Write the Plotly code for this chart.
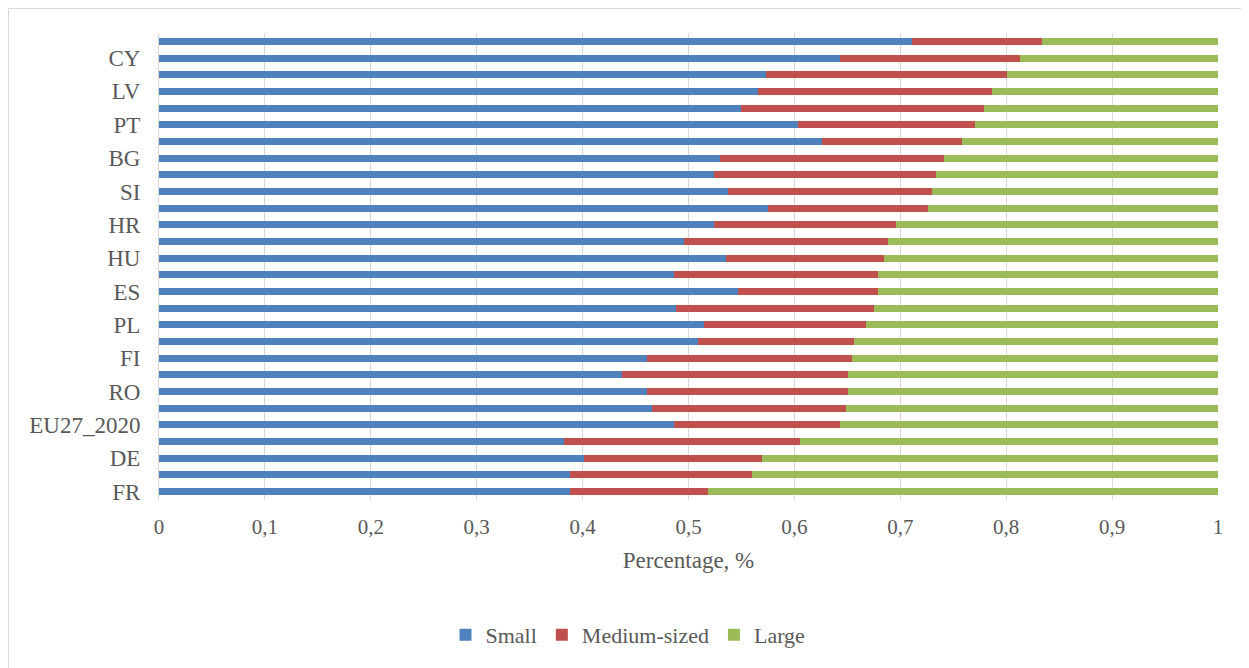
import plotly.graph_objects as go

# Categories listed top to bottom (unlabelled rows carry hidden country codes)
categories = ["EL", "CY", "MT", "LV", "LT", "PT", "IT", "BG", "EE", "SI",
              "LU", "HR", "SK", "HU", "BE", "ES", "CZ", "PL", "NL", "FI",
              "IE", "RO", "AT", "EU27_2020", "DK", "DE", "SE", "FR"]

tick_labels = ["CY", "LV", "PT", "BG", "SI", "HR", "HU", "ES", "PL", "FI",
               "RO", "EU27_2020", "DE", "FR"]

small = [0.711, 0.643, 0.573, 0.566, 0.550, 0.603, 0.626, 0.530, 0.524, 0.537,
         0.575, 0.524, 0.496, 0.535, 0.486, 0.547, 0.488, 0.515, 0.509, 0.461,
         0.437, 0.461, 0.466, 0.486, 0.382, 0.401, 0.388, 0.388]

small_plus_medium = [0.834, 0.813, 0.801, 0.787, 0.779, 0.771, 0.758, 0.741, 0.734, 0.730,
                     0.726, 0.696, 0.688, 0.685, 0.679, 0.679, 0.675, 0.668, 0.656, 0.654,
                     0.651, 0.651, 0.649, 0.643, 0.605, 0.569, 0.560, 0.518]

medium = [round(sm - s, 3) for sm, s in zip(small_plus_medium, small)]
large = [round(1 - sm, 3) for sm in small_plus_medium]

series = [("Small", small, "#4F81BD"),
          ("Medium-sized", medium, "#C0504D"),
          ("Large", large, "#9BBB59")]

FONT = "Liberation Serif, Times New Roman, serif"
GREY = "#595959"

W, H = 1241, 660
L, R, T, B = 151, 31, 25, 168
PW, PH = W - L - R, H - T - B

fig = go.Figure()
for name, vals, color in series:
    fig.add_trace(go.Bar(
        y=categories, x=vals, name=name, orientation="h",
        marker=dict(color=color, line=dict(width=0)),
    ))

fig.update_layout(
    barmode="stack",
    bargap=0.58,
    width=W, height=H,
    margin=dict(l=L, r=R, t=T, b=B),
    paper_bgcolor="white", plot_bgcolor="white",
    separators=", ",
    font=dict(family=FONT, size=21, color=GREY),
    showlegend=True,
    legend=dict(orientation="h", x=(628 - 159) / PW, xanchor="center",
                y=-(635 - 500) / PH, yanchor="middle",
                font=dict(family=FONT, size=22, color=GREY),
                itemwidth=30, traceorder="normal"),
    shapes=[dict(type="rect", xref="paper", yref="paper",
                 x0=(0.5 - L) / PW, x1=(W + 50 - L) / PW,
                 y0=-(H + 50 - T - PH) / PH, y1=(PH + T - 0.5) / PH,
                 line=dict(color="#D9D9D9", width=1), layer="below")],
)

fig.update_xaxes(
    range=[0, 1], dtick=0.1, tick0=0,
    showgrid=True, gridcolor="#D9D9D9", gridwidth=1,
    zeroline=False, showline=False,
    ticks="", ticklabelstandoff=12,
    tickfont=dict(family=FONT, size=21, color=GREY),
    title=dict(text="Percentage, %", standoff=13,
               font=dict(family=FONT, size=23, color=GREY)),
    automargin=False, fixedrange=True,
)

fig.update_yaxes(
    categoryorder="array", categoryarray=categories,
    autorange="reversed",
    tickmode="array", tickvals=tick_labels, ticktext=tick_labels,
    showgrid=False, showline=True, linecolor="#D9D9D9", linewidth=1,
    ticks="", ticklabelstandoff=13,
    tickfont=dict(family=FONT, size=23, color=GREY),
    automargin=False, fixedrange=True,
)

fig.write_html("out.html")
